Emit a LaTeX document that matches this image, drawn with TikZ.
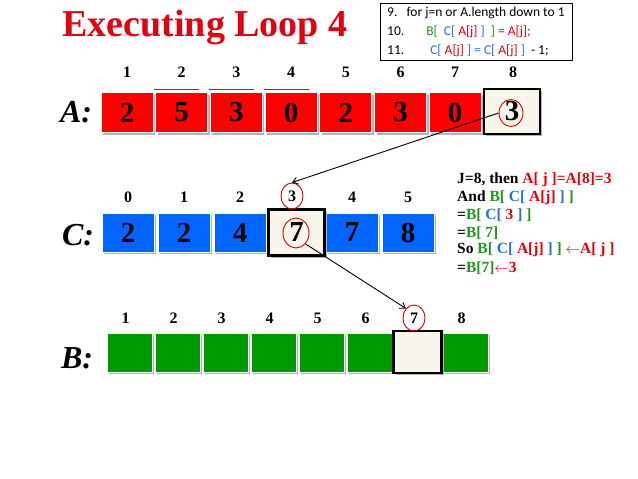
\documentclass[tikz,border=0pt]{standalone}
\usepackage{fontspec}
\setmainfont{Liberation Serif}
\newfontfamily\codefont{Carlito}
\usetikzlibrary{positioning}
\usetikzlibrary{shapes.geometric}
\usetikzlibrary{arrows.meta}
\usetikzlibrary{shadows}
\tikzset{>={Straight Barb[length=5pt, width=7pt]}}
\definecolor{cellred}{HTML}{FF0000}
\definecolor{cellblue}{HTML}{0066FF}
\definecolor{cellgreen}{HTML}{009A00}
\definecolor{cream}{HTML}{F8F5EC}
\definecolor{tred}{HTML}{E3000F}
\definecolor{tgreen}{HTML}{1E961E}
\definecolor{tblue}{HTML}{2A6FD6}
\newcommand{\inred}[1]{\textcolor{tred}{#1}}
\newcommand{\ingreen}[1]{\textcolor{tgreen}{#1}}
\newcommand{\inblue}[1]{\textcolor{tblue}{#1}}
\tikzstyle{cell} = [rectangle, draw=white, line width=0.8pt, inner sep=0pt, minimum height=40pt, font=\fontsize{29}{29}\selectfont\bfseries, drop shadow={shadow xshift=2pt, shadow yshift=-2pt, fill=gray, opacity=0.6}]
\tikzstyle{hot} = [cell, fill=cream, draw=black, line width=2.2pt]
\tikzstyle{idx} = [font=\fontsize{16}{16}\selectfont\bfseries, inner sep=1pt]
\tikzstyle{lbl} = [font=\fontsize{32}{32}\selectfont\bfseries\itshape]
\tikzstyle{ring} = [ellipse, draw=red!85!black, line width=0.9pt, inner sep=0pt]
\tikzstyle{say} = [anchor=west, inner sep=0pt, font=\fontsize{15.5}{16}\selectfont\bfseries]
\tikzstyle{code} = [anchor=west, inner sep=0pt, font=\codefont\fontsize{13.5}{14}\selectfont]

\begin{document}
\begin{tikzpicture}[x=1pt, y=-1pt]
\useasboundingbox (0,0) rectangle (638,479);
\node [font=\fontsize{38}{38}\selectfont\bfseries, text=tred] (title) at (205,28) {Executing Loop 4};

% pseudo code
\node [draw, line width=0.8pt, minimum width=192pt, minimum height=57pt] (codebox) at (476,31.5) {};
\node [code] (code9) at (387,13) {9.\ \ \ for j=n or A.length down to 1};
\node [code] (code10) at (387,32) {10.\hspace{22pt}\ingreen{B[}\ \ \inblue{C[}\ \inred{A[j]}\ \inblue{]}\ \ \ingreen{]} \inred{= A[j];}};
\node [code] (code11) at (387,51) {11.\hspace{26pt}\inblue{C[}\ \inred{A[j]}\ \inblue{] = C[}\ \inred{A[j]}\ \inblue{]}\ \ - 1;};

% array A
\node [lbl] (labA) at (76,112) {A:};
\foreach \i/\v/\x in {1/2/127, 2/5/181.7, 3/3/236.4, 4/0/291.1, 5/2/345.8, 6/3/400.5, 7/0/455.2} {
  \node [cell, fill=cellred, minimum width=52pt] (A\i) at (\x,112.5) {\v};
  \node [idx] (iA\i) at (\x,72) {\i};
}
\node [hot, minimum width=56pt, minimum height=45pt] (A8) at (512,111.5) {3};
\node [idx] (iA8) at (513,72) {8};
\node [ring, minimum width=24pt, minimum height=27pt] (ringA) at (511,113) {};
\foreach \i in {2,3,4}
  \draw [cellred, line width=1.2pt] ([xshift=-1pt, yshift=3pt]A\i.north west) -- ([xshift=-9pt, yshift=3pt]A\i.north east);

% array C
\node [lbl] (labC) at (78,235) {C:};
\foreach \i/\v/\x in {0/2/128, 1/2/184, 2/4/240, 4/7/352, 5/8/408} {
  \node [cell, fill=cellblue, minimum width=52pt, minimum height=39pt] (C\i) at (\x,232.5) {\v};
  \node [idx] (iC\i) at (\x,197) {\i};
}
\node [hot, minimum width=56pt, minimum height=46pt] (C3) at (296.5,232.5) {7};
\node [idx, ring, minimum width=22pt, minimum height=26pt] (iC3) at (292,196) {3};
\node [ring, minimum width=26pt, minimum height=30pt] (ringC) at (296,233) {};

% array B
\node [lbl] (labB) at (77,358) {B:};
\foreach \i/\x in {1/129.5, 2/177.5, 3/225.5, 4/273.5, 5/321.5, 6/369.5, 8/465.5} {
  \node [cell, fill=cellgreen, minimum width=45pt, minimum height=39pt] (B\i) at (\x,352.5) {};
  \node [idx] (iB\i) at (\x-4,318) {\i};
}
\node [hot, minimum width=48pt, minimum height=42pt] (B7) at (417.5,352) {};
\node [idx, ring, minimum width=22pt, minimum height=26pt] (iB7) at (414,318) {7};

% moves
\draw [->, line width=0.9pt] (ringA.west) -- (iC3.north);
\draw [->, line width=0.9pt] (ringC.south east) -- (iB7.north west);

% explanation
\node [say] (say1) at (457,180) {J=8, then \inred{A[ j ]=A[8]=3}};
\node [say] (say2) at (457,198) {And \ingreen{B[} \inblue{C[} \inred{A[j]} \inblue{]} \ingreen{]}};
\node [say] (say3) at (457,215) {=\ingreen{B[} \inblue{C[} \inred{3} \inblue{]} \ingreen{]}};
\node [say] (say4) at (457,233) {=\ingreen{B[ 7]}};
\node [say] (say5) at (457,250) {So \ingreen{B[} \inblue{C[} \inred{A[j]} \inblue{]} \ingreen{]} \inred{$\leftarrow$A[ j ]}};
\node [say] (say6) at (457,268) {=\ingreen{B[7]}\inred{$\leftarrow$3}};
\end{tikzpicture}
\end{document}
